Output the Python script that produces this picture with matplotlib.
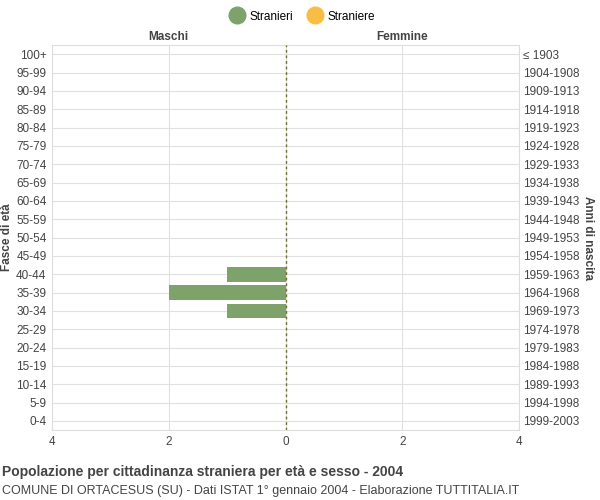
import matplotlib
matplotlib.use("Agg")
import matplotlib.pyplot as plt
plt.rcParams['font.family'] = ['Liberation Sans', 'DejaVu Sans']

ages = ["0-4","5-9","10-14","15-19","20-24","25-29","30-34","35-39","40-44","45-49","50-54","55-59","60-64","65-69","70-74","75-79","80-84","85-89","90-94","95-99","100+"]
years = ["1999-2003","1994-1998","1989-1993","1984-1988","1979-1983","1974-1978","1969-1973","1964-1968","1959-1963","1954-1958","1949-1953","1944-1948","1939-1943","1934-1938","1929-1933","1924-1928","1919-1923","1914-1918","1909-1913","1904-1908","≤ 1903"]
males = [0,0,0,0,0,0,1,2,1,0,0,0,0,0,0,0,0,0,0,0,0]
females = [0]*21
xticks = [-4,-2,0,2,4]
xticklabels = ["4","2","0","2","4"]

green = "#7da36a"; yellow = "#f7be43"
fig = plt.figure(figsize=(6,5), dpi=100)
ax = fig.add_axes([52/600, 70/500, 467/600, 385/500])
y = list(range(len(ages)))
ax.barh(y, [-m for m in males], height=0.8, color=green, zorder=3)
ax.barh(y, females, height=0.8, color=yellow, zorder=3)
ax.set_xlim(-4,4); ax.set_ylim(-0.5, len(ages)-0.5)
ax.set_xticks(xticks); ax.set_xticklabels(xticklabels, fontsize=8.5, color="#444")
ax.set_yticks(y); ax.set_yticklabels(ages, fontsize=8.5, color="#444")
ax.grid(True, color="#e0e0e0", lw=0.8, zorder=0)
for s in ax.spines.values(): s.set_color("#dddddd")
ax.tick_params(length=0, pad=4)
ax.axvline(0, color="#707030", ls=(0,(2,2)), lw=1, zorder=4)
ax2 = ax.twinx()
ax2.set_ylim(ax.get_ylim()); ax2.set_yticks(y); ax2.set_yticklabels(years, fontsize=8.5, color="#444")
ax2.tick_params(length=0, pad=3)
for s in ax2.spines.values(): s.set_visible(False)
ax.set_ylabel("Fasce di età", fontsize=8.5, fontweight="bold", color="#444", labelpad=2)
ax2.set_ylabel("Anni di nascita", fontsize=8.5, fontweight="bold", color="#444", rotation=270, labelpad=10)
ax.text(-2, 1.005, "Maschi", transform=ax.get_xaxis_transform(), ha="center", va="bottom", fontsize=8.5, fontweight="bold", color="#444")
ax.text(2, 1.005, "Femmine", transform=ax.get_xaxis_transform(), ha="center", va="bottom", fontsize=8.5, fontweight="bold", color="#444")
from matplotlib.lines import Line2D
h = [Line2D([],[],marker="o",ls="",ms=12,color=green), Line2D([],[],marker="o",ls="",ms=12,color=yellow)]
fig.legend(h, ["Stranieri","Straniere"], loc="upper center", bbox_to_anchor=(0.5,1.0), ncol=2, frameon=False, fontsize=8.5, handletextpad=0.1, columnspacing=0.8)
fig.text(2/600, 1-472/500, "Popolazione per cittadinanza straniera per età e sesso - 2004", fontsize=10, fontweight="bold", color="#444", va="center")
fig.text(2/600, 1-491/500, "COMUNE DI ORTACESUS (SU) - Dati ISTAT 1° gennaio 2004 - Elaborazione TUTTITALIA.IT", fontsize=9, color="#444", va="center")
fig.savefig("out.png", dpi=100)
